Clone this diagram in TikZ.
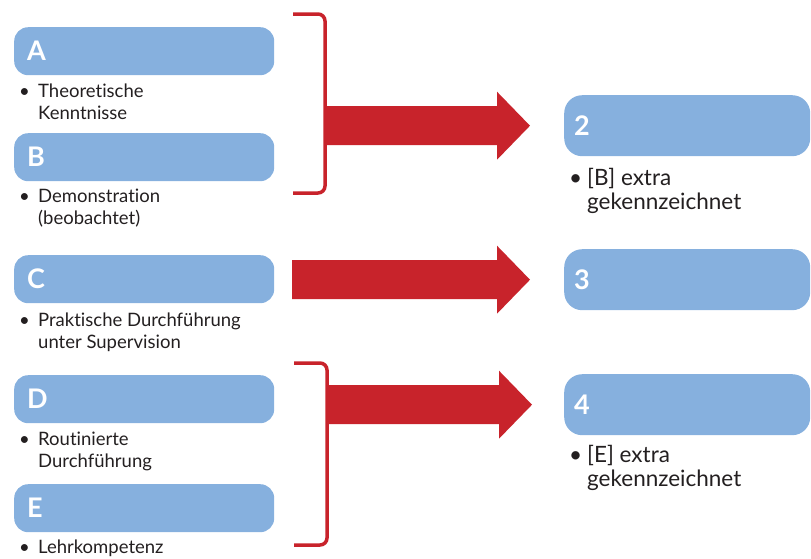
\documentclass[tikz,border=0pt]{standalone}
\usepackage{fontspec}
\setmainfont{Lato}[Ligatures=NoCommon]
\usepackage{xcolor}
\usepackage{tikz}
\usetikzlibrary{calc}
\definecolor{BoxBlue}{HTML}{86B0DE}
\definecolor{ArrowRed}{HTML}{C8232B}
\definecolor{NoteInk}{HTML}{231F20}

\tikzset{
  stagebox/.style={fill=BoxBlue,rounded corners=14pt,minimum height=48pt,
        text width=234pt,inner xsep=13pt,inner ysep=0pt,align=left,
        text=white,font=\fontsize{27}{27}\selectfont\bfseries,anchor=north west},
  levelbox/.style={stagebox,rounded corners=18pt,minimum height=61pt,
        text width=226pt,inner xsep=10pt},
  notes/.style={anchor=base west,inner sep=0pt,text=NoteInk,
        font=\fontsize{18.5}{22.5}\selectfont},
  bignotes/.style={notes,font=\fontsize{22.5}{24}\selectfont}
}
\tikzset{bracket/.style={draw=ArrowRed,line width=3.5pt,rounded corners=7pt}}
\newcommand{\itemtext}[3][19pt]{%
  \begin{tabular}[t]{@{}p{#1}@{}l@{}}\textbullet & #2\\ & #3\end{tabular}}
\newcommand{\blockarrow}[2]{%
  \fill[ArrowRed] ($(#1)+(0,-19.5)$) -- ($(#2)+(-33,-19.5)$)
    -- ($(#2)+(-33,-34)$) -- (#2) -- ($(#2)+(-33,34)$)
    -- ($(#2)+(-33,19.5)$) -- ($(#1)+(0,19.5)$) -- cycle;}

\begin{document}
\begin{tikzpicture}[x=1pt,y=-1pt]
  \useasboundingbox (0,0) rectangle (811,558);
  % left column
  \node[stagebox] (a) at (14,27) {A};
  \node[notes] (ta) at (19,97) {\itemtext{Theoretische}{Kenntnisse}};
  \node[stagebox] (b) at (14,133) {B};
  \node[notes] (tb) at (19,202) {\itemtext{Demonstration}{(beobachtet)}};
  \node[stagebox] (c) at (14,255) {C};
  \node[notes] (tc) at (19,326)
    {\itemtext{Praktische Durchführung}{unter Supervision}};
  \node[stagebox] (d) at (14,375) {D};
  \node[notes] (td) at (19,445) {\itemtext{Routinierte}{Durchführung}};
  \node[stagebox] (e) at (14,484) {E};
  \node[notes] (te) at (19,553) {\itemtext{Lehrkompetenz}{}};
  % right column
  \node[levelbox] (n2) at (564,95) {2};
  \node[bignotes] (t2) at (569,185) {\itemtext[18pt]{[B] extra}{gekennzeichnet}};
  \node[levelbox] (n3) at (564,249) {3};
  \node[levelbox] (n4) at (564,374) {4};
  \node[bignotes] (t4) at (569,462) {\itemtext[18pt]{[E] extra}{gekennzeichnet}};
  % brackets and arrows
  \coordinate (k1) at (325,0 |- n2.west);
  \coordinate (k2) at (292,0 |- n3.west);
  \coordinate (k3) at (327,0 |- n4.west);
  \draw[bracket] (293,14) -| (k1) |- (293,193);
  \draw[bracket] (294,363) -| (k3) |- (294,545);
  \blockarrow{k1}{$(n2.west)+(-34,0)$}
  \blockarrow{k2}{$(n3.west)+(-34,0)$}
  \blockarrow{k3}{$(n4.west)+(-32,0)$}
\end{tikzpicture}
\end{document}
